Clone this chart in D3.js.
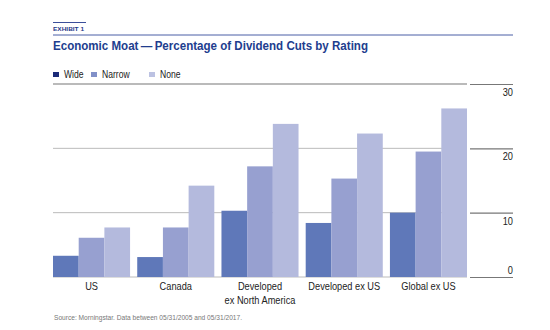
<!DOCTYPE html>
<html>
<head>
<meta charset="utf-8">
<script src="https://cdn.jsdelivr.net/npm/d3@7"></script>
<style>
	body { margin: 0; background: #fff; }
	svg { display: block; font-family: "Liberation Sans", Arial, sans-serif; }
</style>
</head>
<body>
<svg id="chart" width="550" height="330"></svg>
<script>
// Data
const categories = ['US', 'Canada', 'Developed\nex North America', 'Developed ex US', 'Global ex US'];
const series = ['Wide', 'Narrow', 'None'];
const wide = [3.3, 3.1, 10.3, 8.4, 10.0];
const narrow = [6.1, 7.7, 17.2, 15.3, 19.5];
const none = [7.7, 14.2, 23.8, 22.3, 26.2];
const yTicks = [0, 10, 20, 30];

const barColors = ['#5f78b9', '#97a0d0', '#b4badd'];
const legendColors = ['#1b2a78', '#8190c8', '#bcc2e2'];

let svg = d3.select('#chart');
let
	plotLeft = 53,
	plotRight = 467,
	plotTop = 84,
	plotBottom = 277,
	squeeze = 0.84 // no condensed font installed, so squeeze text horizontally
;

// squeeze a text element around its own x position
const condense = (sel, k) => {
	sel.each(function() {
		let t = d3.select(this);
		let ax = +t.attr('x') || 0;
		t.attr('x', 0).attr('transform', `translate(${ax},0) scale(${k},1)`);
		t.selectAll('tspan').attr('x', 0);
	});
};

// rows for the grouped bars
const rows = categories.map((c, i) => ({ cat: c, vals: [wide[i], narrow[i], none[i]] }));

let x0 = d3.scaleBand().domain(categories).range([plotLeft, plotRight]).paddingInner(0.085).paddingOuter(0);
let x1 = d3.scaleBand().domain(series).range([0, x0.bandwidth()]);
let y = d3.scaleLinear().domain([0, 30]).range([plotBottom, plotTop]);

// header
svg.append('line').attr('x1', 53).attr('x2', 86).attr('y1', 22.5).attr('y2', 22.5)
	.attr('stroke', '#3b4f9a').attr('stroke-width', 1);
svg.append('text').attr('x', 53).attr('y', 31).text('EXHIBIT 1')
	.attr('font-size', 6).attr('font-weight', 'bold').attr('fill', '#1f3a8a')
	.attr('textLength', 31).attr('lengthAdjust', 'spacingAndGlyphs');
svg.append('line').attr('x1', 53).attr('x2', 513).attr('y1', 35).attr('y2', 35)
	.attr('stroke', '#4b5fa6').attr('stroke-width', 1);
svg.append('text').attr('x', 53).attr('y', 50)
	.text('Economic Moat\u2009\u2014\u2009Percentage of Dividend Cuts by Rating')
	.attr('font-size', 13).attr('font-weight', 'bold').attr('fill', '#213d8e')
	.attr('textLength', 315).attr('lengthAdjust', 'spacingAndGlyphs');

// legend
let legendX = [53, 91, 149];
let legend = svg.append('g');
series.forEach((s, i) => {
	legend.append('rect').attr('x', legendX[i]).attr('y', 72).attr('width', 6).attr('height', 5)
		.attr('fill', legendColors[i]);
	legend.append('text').attr('x', legendX[i] + 11).attr('y', 78).text(s)
		.attr('font-size', 10).attr('fill', '#222')
		.call(condense, 0.86);
});

// gridlines
svg.append('g').selectAll('line')
	.data(yTicks)
	.enter()
	.append('line')
	.attr('x1', plotLeft).attr('x2', plotRight)
	.attr('y1', (d) => y(d)).attr('y2', (d) => y(d))
	.attr('stroke', (d) => d === 30 ? '#777' : '#bbb')
	.attr('stroke-width', (d) => d === 30 ? 1.2 : 1);

// right axis built from d3.axisRight, then restyled
let axis = svg.append('g').attr('transform', `translate(470,0)`)
	.call(d3.axisRight(y).tickValues(yTicks).tickSize(43).tickFormat(d3.format('d')));
axis.select('.domain').remove();
axis.selectAll('.tick line').attr('stroke', '#777').attr('stroke-width', 1.2);
axis.selectAll('.tick text')
	.attr('x', 43).attr('dy', null)
	.attr('y', (d) => d === 0 ? -4 : 11.5)
	.attr('text-anchor', 'end')
	.attr('font-size', 11).attr('fill', '#222')
	.call(condense, squeeze);

// bars
let groups = svg.append('g').selectAll('g')
	.data(rows)
	.enter()
	.append('g')
	.attr('transform', (d) => `translate(${x0(d.cat)},0)`);
groups.selectAll('rect')
	.data((d) => d.vals.map((v, i) => ({ key: series[i], v: v, i: i })))
	.enter()
	.append('rect')
	.attr('x', (d) => x1(d.key))
	.attr('width', x1.bandwidth())
	.attr('y', (d) => y(d.v))
	.attr('height', (d) => y(0) - y(d.v))
	.attr('fill', (d) => barColors[d.i]);

// category labels
let labels = svg.append('g').selectAll('text')
	.data(categories)
	.enter()
	.append('text')
	.attr('x', (d) => x0(d) + x0.bandwidth() / 2)
	.attr('y', 290)
	.attr('text-anchor', 'middle')
	.attr('font-size', 11)
	.attr('fill', '#222');
labels.each(function(d) {
	let parts = d.split('\n');
	parts.forEach((p, i) => {
		d3.select(this).append('tspan')
			.attr('dy', i === 0 ? 0 : 14)
			.text(p);
	});
});
labels.call(condense, squeeze);

// source note
svg.append('text').attr('x', 54).attr('y', 320)
	.text('Source: Morningstar. Data between 05/31/2005 and 05/31/2017.')
	.attr('font-size', 6.5).attr('fill', '#777')
	.attr('textLength', 188).attr('lengthAdjust', 'spacingAndGlyphs');
</script>
</body>
</html>
